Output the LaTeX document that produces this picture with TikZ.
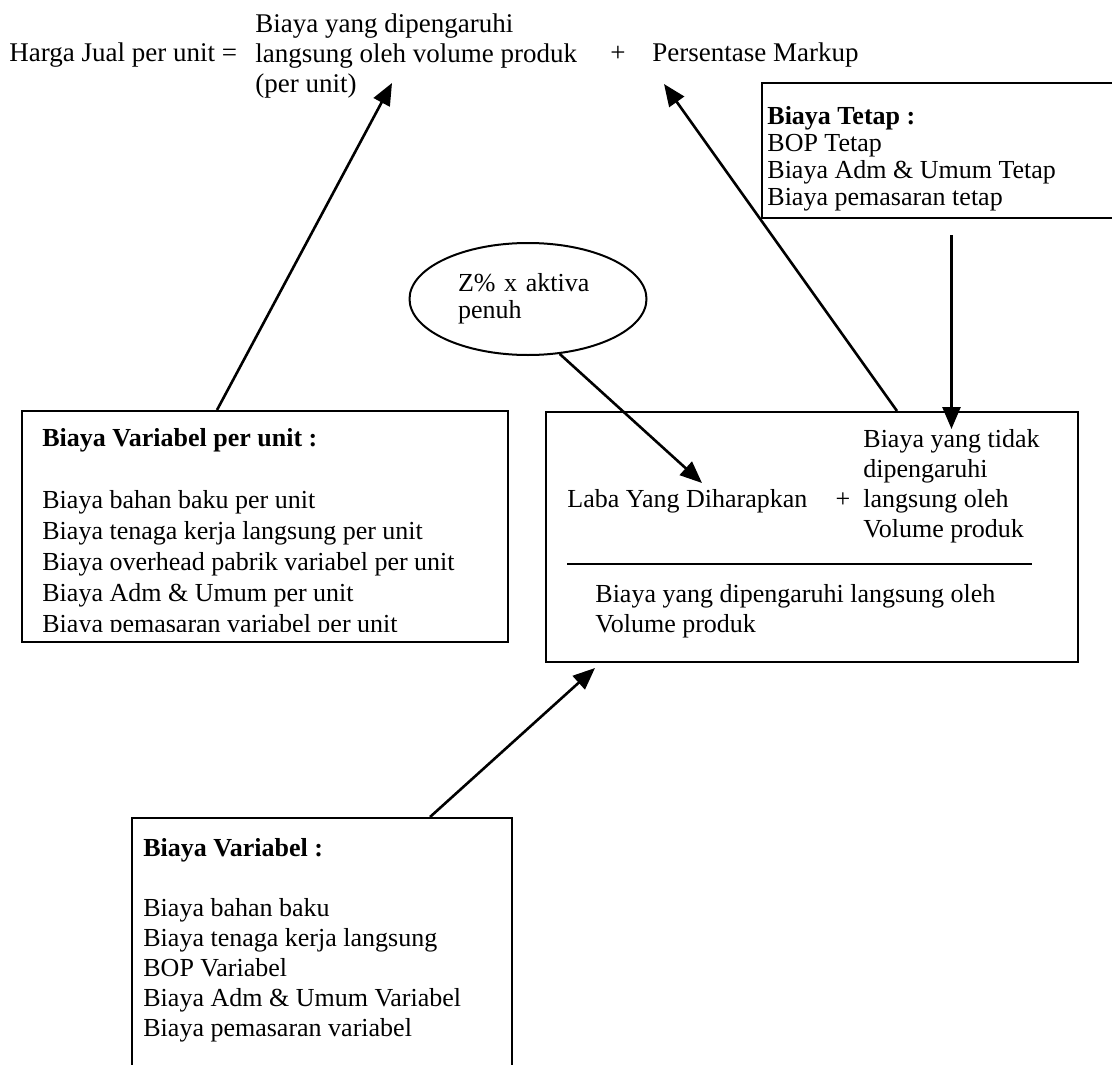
\documentclass[tikz,border=0pt]{standalone}
\usepackage{fontspec}
\setmainfont{Liberation Serif}
\usetikzlibrary{positioning,shapes.geometric,arrows.meta}

\begin{document}
\begin{tikzpicture}[
        x=0.5pt, y=-0.5pt,
        every node/.style={font=\fontsize{13}{15}\selectfont, inner sep=0pt},
        box/.style={draw, rectangle, line width=1pt, inner sep=0pt, anchor=north west},
        txt/.style={align=left, anchor=north west},
        rumus/.style={font=\fontsize{13.5}{15}\selectfont},
        arrow/.style={-{Triangle[length=11pt,width=9pt]}, line width=1.3pt}
    ]
    \useasboundingbox (0,0) rectangle (1112,1064);
    \clip (0,0) rectangle (1112,1064);

    % Rumus harga jual per unit
    \node[rumus, anchor=base west] (hj) at (9,62) {Harga Jual per unit =};
    \node[rumus, txt] (bv) at (255,13) {Biaya yang dipengaruhi\\langsung oleh volume produk\\(per unit)};
    \node[rumus, anchor=base] (plusa) at (618,62) {+};
    \node[rumus, anchor=base west] (pm) at (652,62) {Persentase Markup};

    % Biaya tetap
    \node[box, minimum width=184.5pt, minimum height=67.5pt] (tetap) at (761,82) {};
    \node[txt, font=\fontsize{13}{13.5}\selectfont] (tetaptxt) at (767,106) {%
        \textbf{Biaya Tetap :}\\BOP Tetap\\Biaya Adm \& Umum Tetap\\Biaya pemasaran tetap};

    % Laba yang diharapkan
    \node[draw, ellipse, line width=1pt, minimum width=118.5pt, minimum height=56pt,
        align=left, text width=70pt, font=\fontsize{13}{13.5}\selectfont] (zp) at (528,299) {Z\% x aktiva\\penuh};

    % Biaya variabel per unit
    \node[box, minimum width=243pt, minimum height=115.5pt] (vpu) at (21,410) {};
    \begin{scope}
        \clip (21,410) rectangle (507,631);
        \node[txt, font=\fontsize{13}{15.5}\selectfont] (vputxt) at (42,428) {%
            \textbf{Biaya Variabel per unit :}\\[15.5pt]
            Biaya bahan baku per unit\\
            Biaya tenaga kerja langsung per unit\\
            Biaya overhead pabrik variabel per unit\\
            Biaya Adm \& Umum per unit\\
            Biaya pemasaran variabel per unit};
    \end{scope}

    % Persentase markup
    \node[box, minimum width=266pt, minimum height=125pt] (mk) at (545,411) {};
    \node[anchor=base west] (laba) at (567,507) {Laba Yang Diharapkan};
    \node[anchor=base] (plusb) at (843,507) {+};
    \node[txt] (tdk) at (863,429) {Biaya yang tidak\\dipengaruhi\\langsung oleh\\Volume produk};
    \draw[line width=0.6pt] (567,564) -- (1032,564);
    \node[txt] (byd) at (595,584) {Biaya yang dipengaruhi langsung oleh\\Volume produk};

    % Biaya variabel
    \node[box, minimum width=190pt, minimum height=200pt] (vb) at (131,817) {};
    \node[txt] (vbtxt) at (143,838) {%
        \textbf{Biaya Variabel :}\\[15pt]
        Biaya bahan baku\\
        Biaya tenaga kerja langsung\\
        BOP Variabel\\
        Biaya Adm \& Umum Variabel\\
        Biaya pemasaran variabel};

    % Ujung panah
    \coordinate (tipA) at (392,83);
    \coordinate (tipB) at (664,84);
    \coordinate (tipC) at (702,483);
    \coordinate (tipE) at (595,668);

    \draw[arrow] ([xshift=98pt]vpu.north west) -- (tipA);
    \draw[arrow] ([xshift=176pt]mk.north west) -- (tipB);
    \draw[arrow] (zp.-60) -- (tipC);
    \draw[arrow] ([yshift=-8pt]tetap.south -| tdk.north) -- (tdk.north);
    \draw[arrow] ([xshift=149.5pt]vb.north west) -- (tipE);
\end{tikzpicture}
\end{document}
